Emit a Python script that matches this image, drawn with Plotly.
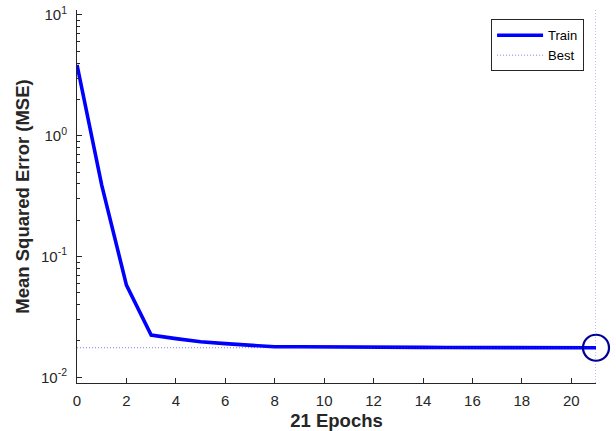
import plotly.graph_objects as go

# ---- data ----
epochs = list(range(22))
train_mse = [3.86, 0.39, 0.058, 0.0224, 0.0209, 0.0197, 0.0190, 0.0183,
             0.0179, 0.0179, 0.0178, 0.01775, 0.0177, 0.0177, 0.0177,
             0.01765, 0.01765, 0.0176, 0.0176, 0.0176, 0.0176, 0.01758]
best_epoch = 21
best_perf = 0.01758
x_ticks = [0, 2, 4, 6, 8, 10, 12, 14, 16, 18, 20]
y_ticks = [0.01, 0.1, 1, 10]
y_tick_text = ["10<sup>-2</sup>", "10<sup>-1</sup>", "10<sup>0</sup>", "10<sup>1</sup>"]
y_minor = [m * 10 ** e for e in (-2, -1, 0) for m in range(2, 10)]

font_family = "Liberation Sans, Arial, Helvetica, sans-serif"
axis_color = "#262626"
dot_color = "rgba(40,40,230,0.6)"

fig = go.Figure()

fig.add_trace(go.Scatter(
    x=epochs, y=train_mse, mode="lines", name="Train",
    line=dict(color="#0000FF", width=3.6),
))
fig.add_trace(go.Scatter(
    x=[epochs[0], best_epoch], y=[best_perf, best_perf], mode="lines", name="Best",
    line=dict(color=dot_color, width=1, dash="1px,2px"),
))
fig.add_trace(go.Scatter(
    x=[best_epoch], y=[best_perf], mode="markers", showlegend=False,
    marker=dict(symbol="circle-open", size=26, color="#000099",
                line=dict(width=2.2, color="#000099")),
    cliponaxis=False,
))
fig.add_vline(x=best_epoch, line=dict(color=dot_color, width=1, dash="1px,2px"))

fig.update_layout(
    width=616, height=431,
    margin=dict(l=77, r=20, t=10, b=48, autoexpand=False),
    paper_bgcolor="white", plot_bgcolor="white",
    font=dict(family=font_family, color=axis_color, size=15),
    showlegend=True,
    legend=dict(
        x=0.977, y=0.975, xanchor="right", yanchor="top",
        bgcolor="white", bordercolor="#262626", borderwidth=1,
        font=dict(size=13, color="#000000"),
        itemwidth=46, tracegroupgap=0,
    ),
)

fig.update_xaxes(
    range=[0, 21], tickmode="array", tickvals=x_ticks,
    ticks="inside", ticklen=5, tickcolor=axis_color, tickwidth=1,
    showline=True, linecolor=axis_color, linewidth=1,
    showgrid=False, zeroline=False, mirror=False, automargin=False,
    tickfont=dict(size=15, color=axis_color), ticklabelstandoff=4,
    title=dict(text="<b>21 Epochs</b>", font=dict(size=18.5, color=axis_color), standoff=6),
)
fig.update_yaxes(
    type="log", range=[-2.047, 1.041], tickmode="array",
    tickvals=y_ticks, ticktext=y_tick_text,
    ticks="inside", ticklen=5, tickcolor=axis_color, tickwidth=1,
    minor=dict(tickmode="array", tickvals=y_minor, ticks="inside", ticklen=3,
               tickcolor=axis_color, tickwidth=1, showgrid=False),
    showline=True, linecolor=axis_color, linewidth=1,
    showgrid=False, zeroline=False, mirror=False, automargin=False,
    tickfont=dict(size=15, color=axis_color), ticklabelstandoff=6,
    title=dict(text="<b>Mean Squared Error (MSE)</b>", font=dict(size=18.5, color=axis_color), standoff=6),
)

fig.write_html("out.html")
